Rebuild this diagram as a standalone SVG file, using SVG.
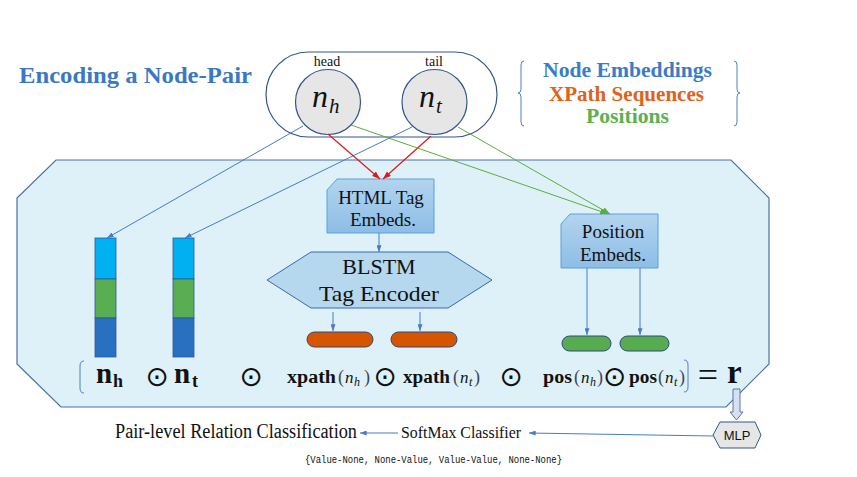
<svg xmlns="http://www.w3.org/2000/svg" width="857" height="477" viewBox="0 0 857 477">
<defs>
<style>
.serif{font-family:"Liberation Serif","DejaVu Serif",serif;fill:#111}
.sans{font-family:"Liberation Sans","DejaVu Sans",sans-serif;fill:#111}
.mono{font-family:"Liberation Mono","DejaVu Sans Mono",monospace;fill:#111}
.op{font-family:"DejaVu Sans",sans-serif;fill:#111;font-size:28px;text-anchor:middle}
.bw{font-family:"Liberation Serif","DejaVu Serif",serif;fill:#111;font-size:18px;font-weight:bold}
.par{font-family:"Liberation Serif","DejaVu Serif",serif;fill:#3a4660;font-size:18px}
.it{font-family:"Liberation Serif","DejaVu Serif",serif;fill:#111;font-size:17px;font-style:italic}
.sub{font-family:"Liberation Serif","DejaVu Serif",serif;fill:#111;font-size:12px;font-style:italic}
.blue{stroke:#4a7ac8;stroke-width:1;fill:none}
.red{stroke:#e01818;stroke-width:1.2;fill:none}
.green{stroke:#5aad3c;stroke-width:1;fill:none}
.embed{fill:url(#gEmb);stroke:#5aa0dc;stroke-width:1}
.pillO{fill:#d75500;stroke:#2c4a7a;stroke-width:1}
.pillG{fill:#56ac4e;stroke:#2c4a7a;stroke-width:1}
.node{fill:#e6e6e6;stroke:#34558c;stroke-width:1.2}
</style>
<linearGradient id="gEmb" x1="0" y1="0" x2="0" y2="1">
<stop offset="0" stop-color="#b3d4ee"/>
<stop offset="1" stop-color="#8dbde6"/>
</linearGradient>
<marker id="aB" viewBox="0 0 8 6" refX="8" refY="3" markerWidth="7" markerHeight="5" markerUnits="userSpaceOnUse" orient="auto"><path d="M0,0L8,3L0,6z" fill="#4a7ac8"/></marker>
<marker id="aR" viewBox="0 0 8 6" refX="8" refY="3" markerWidth="8" markerHeight="6" markerUnits="userSpaceOnUse" orient="auto"><path d="M0,0L8,3L0,6z" fill="#e01818"/></marker>
<marker id="aG" viewBox="0 0 8 6" refX="8" refY="3" markerWidth="8" markerHeight="6" markerUnits="userSpaceOnUse" orient="auto"><path d="M0,0L8,3L0,6z" fill="#5aad3c"/></marker>
</defs>
<rect width="857" height="477" fill="#ffffff"/>

<g id="panel">
<polygon points="56,160 731,160 769,198 769,364 726,407 61,407 17,364 17,198" fill="#dff1f8" stroke="#4a70a8" stroke-width="1.2"/>
</g>

<g id="title">
<text class="serif" x="19" y="83" font-size="24" font-weight="bold" style="fill:#3a78c4" textLength="233" lengthAdjust="spacingAndGlyphs">Encoding a Node-Pair</text>
</g>

<g id="legend">
<path d="M524,61 Q521,61 521,65 L521,89 Q521,93 518,93 Q521,93 521,97 L521,122 Q521,126 524,126" fill="none" stroke="#5080c0" stroke-width="1"/>
<path d="M734,61 Q737,61 737,65 L737,89 Q737,93 740,93 Q737,93 737,97 L737,122 Q737,126 734,126" fill="none" stroke="#5080c0" stroke-width="1"/>
<text class="serif" x="543" y="77" font-size="21" font-weight="bold" style="fill:#3a7cc8" textLength="169" lengthAdjust="spacingAndGlyphs">Node Embeddings</text>
<text class="serif" x="549" y="101" font-size="21" font-weight="bold" style="fill:#e0621a" textLength="155" lengthAdjust="spacingAndGlyphs">XPath Sequences</text>
<text class="serif" x="586" y="123" font-size="21" font-weight="bold" style="fill:#5cb050" textLength="83" lengthAdjust="spacingAndGlyphs">Positions</text>
</g>

<g id="pair">
<rect x="266" y="52" width="231" height="85" rx="42.5" fill="#ffffff" stroke="#34558c" stroke-width="1.2"/>
</g>

<g id="node-head">
<text class="serif" x="327" y="66" font-size="14" text-anchor="middle">head</text>
<circle class="node" cx="328" cy="102" r="32.5"/>
<text class="serif" x="312" y="107" font-size="32" font-style="italic">n</text>
<text class="serif" x="329" y="113" font-size="21" font-style="italic">h</text>
</g>

<g id="node-tail">
<text class="serif" x="434" y="66" font-size="14" text-anchor="middle">tail</text>
<circle class="node" cx="434.5" cy="102" r="32.5"/>
<text class="serif" x="419" y="107" font-size="32" font-style="italic">n</text>
<text class="serif" x="436" y="113" font-size="21" font-style="italic">t</text>
</g>

<g id="bar-h">
<rect x="95" y="238" width="21" height="41" fill="#00b0f0" stroke="#2a5a98" stroke-width="0.8"/>
<rect x="95" y="279" width="21" height="39" fill="#58ae50" stroke="#2a5a98" stroke-width="0.8"/>
<rect x="95" y="318" width="21" height="39" fill="#2a70c0" stroke="#2a5a98" stroke-width="0.8"/>
</g>
<g id="bar-t">
<rect x="173" y="238" width="21" height="41" fill="#00b0f0" stroke="#2a5a98" stroke-width="0.8"/>
<rect x="173" y="279" width="21" height="39" fill="#58ae50" stroke="#2a5a98" stroke-width="0.8"/>
<rect x="173" y="318" width="21" height="39" fill="#2a70c0" stroke="#2a5a98" stroke-width="0.8"/>
</g>

<g id="html-embeds">
<polygon class="embed" points="337,179 434,179 434,233 327,233 327,190"/>
<text class="serif" x="381" y="204" font-size="19" text-anchor="middle">HTML Tag</text>
<text class="serif" x="383" y="226" font-size="19" text-anchor="middle">Embeds.</text>
</g>

<g id="blstm">
<polygon points="267,280 311,252 448,252 492,280 448,308 311,308" fill="#b5d8ee" stroke="#3a6aa8" stroke-width="1"/>
<text class="serif" x="379" y="274" font-size="22" text-anchor="middle">BLSTM</text>
<text class="serif" x="319" y="301" font-size="22" textLength="120" lengthAdjust="spacingAndGlyphs">Tag Encoder</text>
</g>

<g id="xpath-h"><rect class="pillO" x="307" y="332" width="66" height="15" rx="7.5"/></g>
<g id="xpath-t"><rect class="pillO" x="391" y="332" width="66" height="15" rx="7.5"/></g>

<g id="pos-embeds">
<polygon class="embed" points="570,214 658,214 658,268 561,268 561,224"/>
<text class="serif" x="613" y="238" font-size="19" text-anchor="middle">Position</text>
<text class="serif" x="613" y="261" font-size="19" text-anchor="middle">Embeds.</text>
</g>

<g id="pos-h"><rect class="pillG" x="562" y="336" width="49" height="15" rx="7.5"/></g>
<g id="pos-t"><rect class="pillG" x="620" y="336" width="49" height="15" rx="7.5"/></g>

<g id="formula">
<path d="M84,361 Q80,361 80,366 L80,388 Q80,393 84,393" fill="none" stroke="#5080c0" stroke-width="1"/>
<path d="M684,360 Q688,360 688,365 L688,387 Q688,392 684,392" fill="none" stroke="#5080c0" stroke-width="1"/>
<text class="serif" x="96" y="383" font-size="29" font-weight="bold">n</text>
<text class="serif" x="113" y="387" font-size="18" font-weight="bold">h</text>
<text class="op" x="157" y="386">⊙</text>
<text class="serif" x="174" y="383" font-size="29" font-weight="bold">n</text>
<text class="serif" x="192" y="387" font-size="18" font-weight="bold">t</text>
<text class="op" x="251" y="386">⊙</text>
<text class="bw" x="287" y="383" textLength="49" lengthAdjust="spacingAndGlyphs">xpath</text>
<text class="par" x="338" y="383">(</text><text class="it" x="345" y="383">n</text><text class="sub" x="354" y="386">h</text><text class="par" x="364" y="383">)</text>
<text class="op" x="385" y="386">⊙</text>
<text class="bw" x="403" y="383" textLength="47" lengthAdjust="spacingAndGlyphs">xpath</text>
<text class="par" x="453" y="383">(</text><text class="it" x="460" y="383">n</text><text class="sub" x="469" y="386">t</text><text class="par" x="474" y="383">)</text>
<text class="op" x="511" y="386">⊙</text>
<text class="bw" x="543" y="383" textLength="29" lengthAdjust="spacingAndGlyphs">pos</text>
<text class="par" x="574" y="383">(</text><text class="it" x="581" y="383">n</text><text class="sub" x="590" y="386">h</text><text class="par" x="597" y="383">)</text>
<text class="op" x="614.5" y="386">⊙</text>
<text class="bw" x="629" y="383" textLength="28" lengthAdjust="spacingAndGlyphs">pos</text>
<text class="par" x="658" y="383">(</text><text class="it" x="665" y="383">n</text><text class="sub" x="674" y="386">t</text><text class="par" x="679" y="383">)</text>
<text class="serif" x="708" y="387" font-size="36" text-anchor="middle">=</text>
<text class="serif" x="727" y="383" font-size="33" font-weight="bold">r</text>
</g>

<g id="mlp">
<polygon points="713,435 720,422 755,422 761,435 755,448 720,448" fill="#e6e6e6" stroke="#34558c" stroke-width="1"/>
<text class="sans" x="737" y="440" font-size="13" text-anchor="middle">MLP</text>
</g>

<g id="softmax">
<text class="serif" x="401" y="438" font-size="17" textLength="120" lengthAdjust="spacingAndGlyphs">SoftMax Classifier</text>
</g>

<g id="pair-level">
<text class="serif" x="115" y="438" font-size="20" textLength="242" lengthAdjust="spacingAndGlyphs">Pair-level Relation Classification</text>
</g>

<g id="labels-set">
<text class="mono" x="305" y="463" font-size="11" textLength="257" lengthAdjust="spacingAndGlyphs">{Value-None, None-Value, Value-Value, None-None}</text>
</g>

<g id="connectors">
<line class="blue" x1="303" y1="126" x2="107" y2="238" marker-end="url(#aB)"/>
<line class="blue" x1="412" y1="127" x2="185" y2="238" marker-end="url(#aB)"/>
<line class="red" x1="328" y1="134" x2="380" y2="179" marker-end="url(#aR)"/>
<line class="red" x1="431" y1="136" x2="383" y2="179" marker-end="url(#aR)"/>
<line class="green" x1="351" y1="125" x2="608" y2="214" marker-end="url(#aG)"/>
<line class="green" x1="458" y1="127" x2="610" y2="214" marker-end="url(#aG)"/>
<line class="blue" x1="379" y1="233" x2="379" y2="252" marker-end="url(#aB)"/>
<line class="blue" x1="333" y1="312" x2="333" y2="331" marker-end="url(#aB)"/>
<line class="blue" x1="420" y1="312" x2="420" y2="331" marker-end="url(#aB)"/>
<line class="blue" x1="587" y1="268" x2="587" y2="335" marker-end="url(#aB)"/>
<line class="blue" x1="640" y1="268" x2="640" y2="335" marker-end="url(#aB)"/>
<polygon points="733,389 740,389 740,412 743,412 736.5,420 730,412 733,412" fill="#d8dff0" stroke="#5878a8" stroke-width="1"/>
<line class="blue" x1="713" y1="436" x2="529" y2="433" marker-end="url(#aB)"/>
<line class="blue" x1="398" y1="433" x2="360" y2="433" marker-end="url(#aB)"/>
</g>
</svg>
